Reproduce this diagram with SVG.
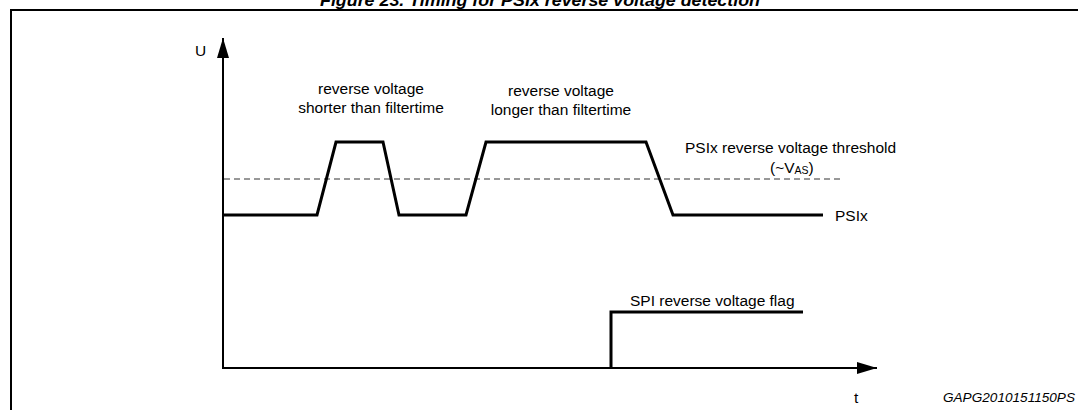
<svg xmlns="http://www.w3.org/2000/svg" width="1078" height="410" viewBox="0 0 1078 410">
<style>
text{font-family:"Liberation Sans",Arial,sans-serif;fill:#000}
.t{font-size:15.5px}
.sig{fill:none;stroke:#000;stroke-width:3;stroke-linejoin:miter}
.ax{fill:none;stroke:#000;stroke-width:2}
</style>
<defs>
<marker id="ah" viewBox="0 0 20 12" refX="20" refY="6" markerWidth="20" markerHeight="12" markerUnits="userSpaceOnUse" orient="auto">
<path d="M0,0 L20,6 L0,12 Z" fill="#000"/>
</marker>
</defs>
<rect width="1078" height="410" fill="#fff"/>
<text x="540" y="6" text-anchor="middle" font-size="17" font-weight="bold" font-style="italic" textLength="440" lengthAdjust="spacingAndGlyphs">Figure 23. Timing for PSIx reverse voltage detection</text>
<g id="frame">
<path d="M11,410 V10 H1078" fill="none" stroke="#000" stroke-width="2"/>
</g>
<g id="axes">
<line class="ax" x1="223" y1="368" x2="223" y2="38" marker-end="url(#ah)"/>
<line class="ax" x1="222" y1="368" x2="877" y2="368" marker-end="url(#ah)"/>
<text class="t" x="195" y="56">U</text>
<text class="t" x="854" y="403">t</text>
</g>
<g id="threshold">
<line x1="224" y1="179" x2="843" y2="179" stroke="#333" stroke-width="1" stroke-dasharray="6,4"/>
<text class="t" x="685" y="153">PSIx reverse voltage threshold</text>
<text class="t" x="770" y="173">(~V<tspan font-size="10.5" dy="1">AS</tspan><tspan dy="-1">)</tspan></text>
</g>
<g id="psix">
<polyline class="sig" points="222,215 317,215 336,142 383,142 399,215 466,215 486,142 646,142 673,215 823,215"/>
<text class="t" x="835" y="221">PSIx</text>
</g>
<g id="label-short">
<text class="t" x="371" y="94" text-anchor="middle">reverse voltage</text>
<text class="t" x="371" y="113" text-anchor="middle">shorter than filtertime</text>
</g>
<g id="label-long">
<text class="t" x="561" y="96" text-anchor="middle">reverse voltage</text>
<text class="t" x="561" y="115" text-anchor="middle">longer than filtertime</text>
</g>
<g id="flag">
<polyline class="sig" points="611,368 611,312 803,312"/>
<text class="t" x="630" y="306">SPI reverse voltage flag</text>
</g>
<text x="1075" y="402" text-anchor="end" font-size="13.6" font-style="italic">GAPG2010151150PS</text>
</svg>
